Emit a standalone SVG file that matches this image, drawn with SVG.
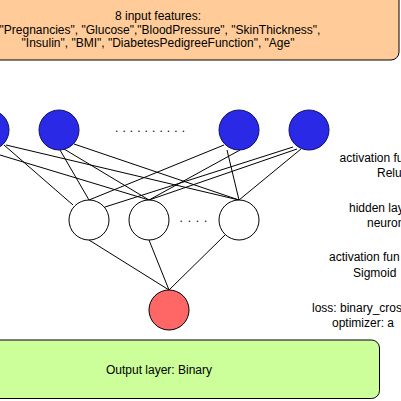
<svg xmlns="http://www.w3.org/2000/svg" width="401" height="401" viewBox="0 0 401 401">
<style>
text{font-family:"Liberation Sans",Arial,sans-serif;font-size:12px;fill:#000}
.c{text-anchor:middle}
.in{fill:#2a2ae6;stroke:#10106a;stroke-width:1}
.hid{fill:#fff;stroke:#000;stroke-width:1}
.out{fill:#ff6666;stroke:#000;stroke-width:1}
.e{stroke:#000;stroke-width:1;fill:none}
.box{stroke:#000;stroke-width:1}
</style>
<rect width="401" height="401" fill="#fff"/>
<g id="input-box">
<rect class="box" x="-20" y="-20" width="419" height="80" rx="8" fill="#ffcc99"/>
<text class="c" x="158" y="20">8 input features:</text>
<text class="c" x="160" y="33.5">"Pregnancies", "Glucose","BloodPressure", "SkinThickness",</text>
<text class="c" x="158" y="47">"Insulin", "BMI", "DiabetesPedigreeFunction", "Age"</text>
</g>
<g id="output-box">
<rect class="box" x="-20" y="340" width="399.5" height="58.5" rx="8" fill="#ccff99"/>
<text class="c" x="159" y="374">Output layer: Binary</text>
</g>
<g id="connectors">
<line class="e" x1="4" y1="145" x2="73" y2="205"/>
<line class="e" x1="0" y1="155" x2="149" y2="200"/>
<line class="e" x1="6" y1="145" x2="239" y2="200"/>
<line class="e" x1="60" y1="150" x2="89" y2="200"/>
<line class="e" x1="64" y1="149" x2="149" y2="200"/>
<line class="e" x1="74" y1="144" x2="239" y2="200"/>
<line class="e" x1="224" y1="145" x2="89" y2="200"/>
<line class="e" x1="240" y1="150" x2="149" y2="200"/>
<line class="e" x1="227" y1="150" x2="239" y2="200"/>
<line class="e" x1="293" y1="147" x2="105" y2="207"/>
<line class="e" x1="297" y1="149" x2="149" y2="200"/>
<line class="e" x1="301" y1="149" x2="239" y2="200"/>
<line class="e" x1="89" y1="240" x2="169" y2="290"/>
<line class="e" x1="149" y1="240" x2="169" y2="290"/>
<line class="e" x1="225" y1="235" x2="169" y2="290"/>
</g>
<g id="input-1"><circle class="in" cx="-11" cy="130" r="20"/></g>
<g id="input-2"><circle class="in" cx="59" cy="130" r="20"/></g>
<g id="input-3"><circle class="in" cx="239" cy="130" r="20"/></g>
<g id="input-4"><circle class="in" cx="309" cy="130" r="20"/></g>
<g id="input-dots"><text x="115" y="131.5" letter-spacing="4.07">..........</text></g>
<g id="hidden-1"><circle class="hid" cx="89" cy="220" r="20"/></g>
<g id="hidden-2"><circle class="hid" cx="149" cy="220" r="20"/></g>
<g id="hidden-3"><circle class="hid" cx="239" cy="220" r="20"/></g>
<g id="hidden-dots"><text x="179.5" y="221.5" letter-spacing="4.8">....</text></g>
<g id="output-node"><circle class="out" cx="169" cy="310" r="20"/></g>
<g id="labels">
<text x="339.5" y="162">activation fu</text>
<text x="377" y="177">Relu</text>
<text x="349" y="212">hidden lay</text>
<text x="367" y="227">neuron</text>
<text x="329" y="261">activation fun</text>
<text x="353" y="277">Sigmoid</text>
<text x="312" y="312">loss: binary_cros</text>
<text x="332" y="327">optimizer: a</text>
</g>
</svg>
